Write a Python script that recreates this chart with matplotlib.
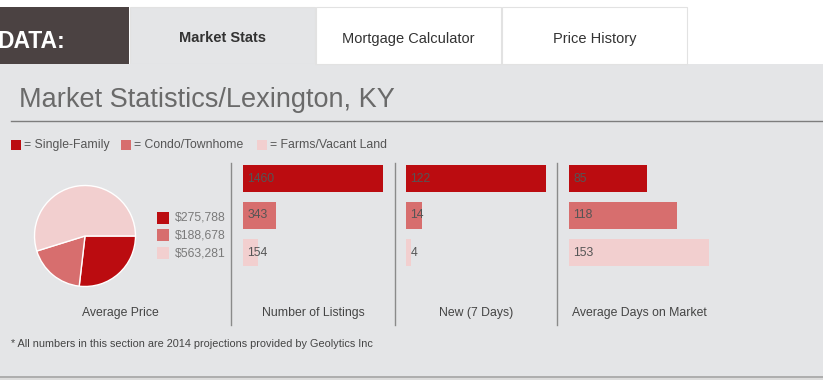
import matplotlib
matplotlib.use("Agg")
import matplotlib.pyplot as plt
from matplotlib.patches import Rectangle

plt.rcParams['font.family'] = ['Liberation Sans', 'DejaVu Sans']

# ---------------- data ----------------
categories = ["Single-Family", "Condo/Townhome", "Farms/Vacant Land"]
avg_price = [275788, 188678, 563281]
listings = [1460, 343, 154]
new_7_days = [122, 14, 4]
days_on_market = [85, 118, 153]
panel_titles = ["Average Price", "Number of Listings", "New (7 Days)", "Average Days on Market"]
tab_labels = ["Market Stats", "Mortgage Calculator", "Price History"]
header_label = "DATA:"
title = "Market Statistics/Lexington, KY"
footnote = "* All numbers in this section are 2014 projections provided by Geolytics Inc"

colors = ["#bb0c10", "#d76e6e", "#f2cfcf"]
panel_bg = "#e4e5e7"
text_dark = "#555555"

W, H = 823, 384
fig = plt.figure(figsize=(W / 100, H / 100), dpi=100)
fig.patch.set_facecolor("white")


def rect(x0, y0, x1, y1):
    return [x0 / W, 1 - y1 / H, (x1 - x0) / W, (y1 - y0) / H]


bg = fig.add_axes([0, 0, 1, 1])
bg.set_xlim(0, W)
bg.set_ylim(H, 0)
bg.axis("off")
bg.set_zorder(0)

# panel background and bottom shadow
bg.add_patch(Rectangle((0, 64), W, 312, facecolor=panel_bg, edgecolor="none"))
bg.add_patch(Rectangle((0, 376), W, 1.5, facecolor="#aeaeae", edgecolor="none"))
bg.add_patch(Rectangle((0, 377.5), W, 2, facecolor="#dcdcdc", edgecolor="none"))

# header tabs
bg.add_patch(Rectangle((0, 7), 129, 57, facecolor="#4b4242", edgecolor="none"))
bg.text(65, 42, header_label, color="white", fontsize=16.5, fontweight="bold",
        ha="right", va="center")
tab_x = [(130, 315), (316, 501), (502, 687)]
for i, (lab, (x0, x1)) in enumerate(zip(tab_labels, tab_x)):
    fc = panel_bg if i == 0 else "white"
    bg.add_patch(Rectangle((x0, 7), x1 - x0, 57, facecolor=fc, edgecolor="#e2e2e2",
                           linewidth=0.8))
    bg.text((x0 + x1) / 2, 38.5, lab, color="#333333", fontsize=10.5,
            fontweight="bold" if i == 0 else "normal", ha="center", va="center")
bg.add_patch(Rectangle((130, 64), 185, 2, facecolor=panel_bg, edgecolor="none"))

# title and rule
bg.text(19, 100, title, color="#6a6a6a", fontsize=19.5, ha="left", va="center")
bg.plot([11, W], [121, 121], color="#7d7d7d", linewidth=1.0)

# top legend
leg_sq_x = [11, 121, 257]
leg_txt_x = [24, 134, 270]
for c, cat, sx, tx in zip(colors, categories, leg_sq_x, leg_txt_x):
    bg.add_patch(Rectangle((sx, 140), 10, 10, facecolor=c, edgecolor="none"))
    bg.text(tx, 145, "= " + cat, color=text_dark, fontsize=8.8, ha="left", va="center")

# dividers
for x in [231, 395, 557]:
    bg.plot([x, x], [163, 325], color="#8a8a8a", linewidth=1.0)

# pie
pie_ax = fig.add_axes(rect(34, 185, 136, 287))
pie_ax.pie(avg_price, colors=colors, startangle=0, counterclock=False,
           wedgeprops=dict(edgecolor="white", linewidth=1.0))
pie_ax.set_xlim(-1.01, 1.01)
pie_ax.set_ylim(-1.01, 1.01)
pie_ax.set_aspect("equal")
pie_ax.axis("off")

# pie legend
for i, (c, v) in enumerate(zip(colors, avg_price)):
    yc = 217.5 + i * 17.8
    bg.add_patch(Rectangle((157, yc - 6), 12, 12, facecolor=c, edgecolor="none"))
    bg.text(175, yc, "${:,}".format(v), color="#7a7a7a", fontsize=8.8,
            ha="left", va="center")

# bar panels
bar_specs = [(listings, 243, 383), (new_7_days, 406, 546), (days_on_market, 569, 709)]
for vals, x0, x1 in bar_specs:
    ax = fig.add_axes(rect(x0, 160, x1, 271))
    ax.set_facecolor("none")
    ypos = list(range(len(vals)))
    ax.barh(ypos, vals, height=0.73, color=colors, edgecolor="none")
    ax.set_xlim(0, max(vals))
    ax.set_ylim(len(vals) - 0.5, -0.5)
    for y, v in zip(ypos, vals):
        ax.annotate(str(v), xy=(0, y), xytext=(3.3, 0), textcoords="offset points",
                    ha="left", va="center", color=text_dark, fontsize=8.8)
    ax.axis("off")

# panel titles
title_x = [120, 313, 476, 639]
for tx, lab in zip(title_x, panel_titles):
    bg.text(tx, 313, lab, color="#444444", fontsize=8.8, ha="center", va="center")

# footnote
bg.text(11, 344, footnote, color="#444444", fontsize=7.8, ha="left", va="center")

fig.savefig("out.png", dpi=100, facecolor=fig.get_facecolor())
